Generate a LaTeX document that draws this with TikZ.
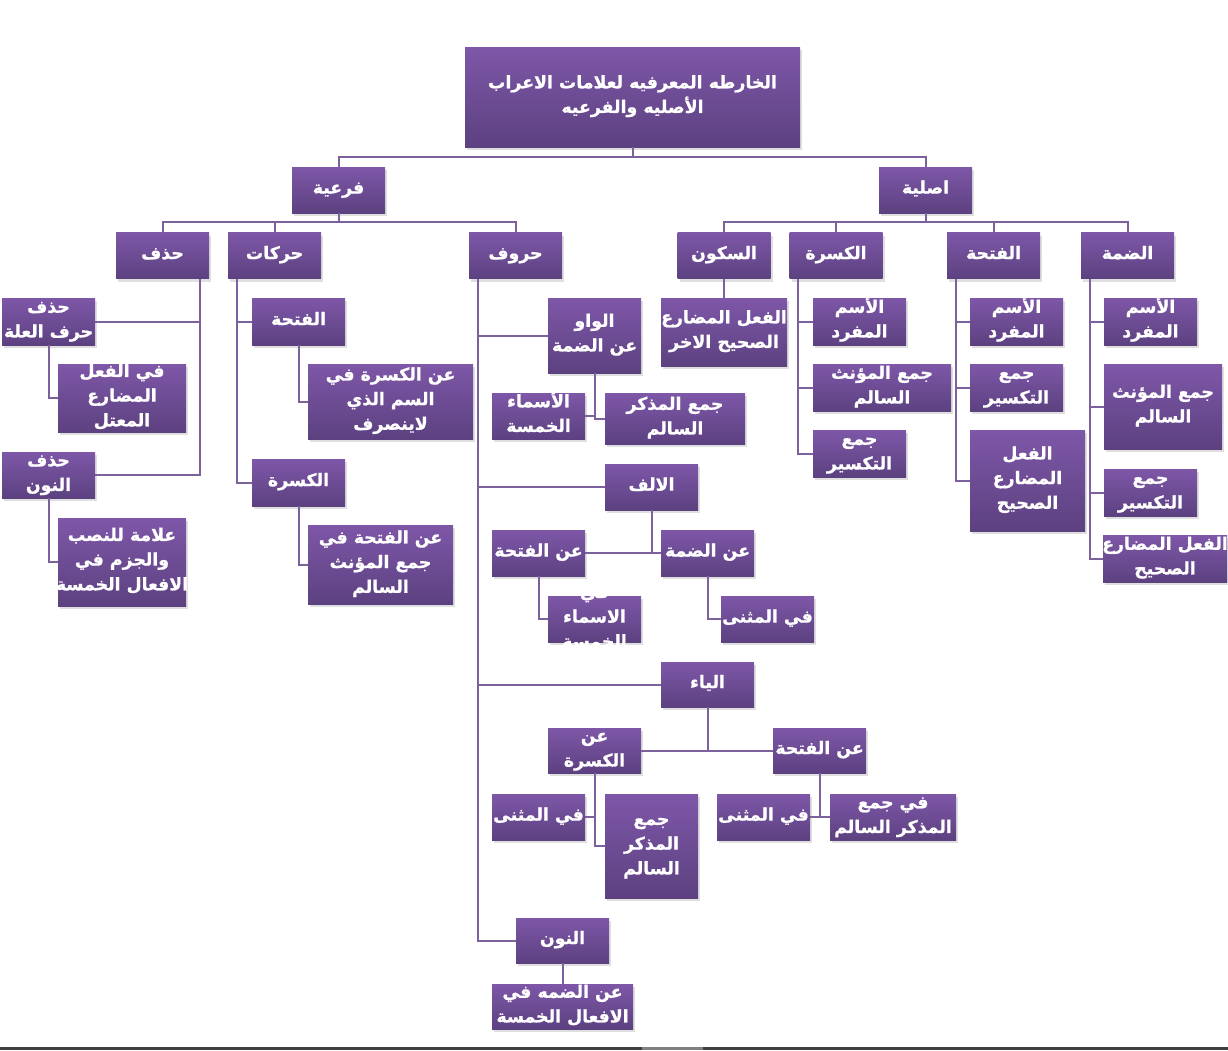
\documentclass[tikz,border=0pt]{standalone}
\usepackage{fontspec}
\newfontfamily\arabicfont[Script=Arabic, BoldFeatures={FakeBold=1}]{DejaVu Sans}
\TeXXeTstate=1
\usepackage{xcolor}
\usetikzlibrary{shapes,shadows}
\definecolor{boxtop}{RGB}{126,87,168}
\definecolor{boxbottom}{RGB}{92,65,128}
\definecolor{linkcolor}{RGB}{124,98,156}
\newcommand{\rl}[1]{\beginR #1\endR}
\newcommand{\boxlines}[1]{\makebox[0pt]{\smash{\raisebox{-2pt}{\begin{tabular}{@{}c@{}}#1\end{tabular}}}}}

\begin{document}
\begin{tikzpicture}[x=0.75pt, y=-0.75pt]
        \tikzstyle{block} = [rectangle, top color=boxtop, bottom color=boxbottom, text=white, font=\arabicfont\bfseries\fontsize{13}{18.5}\selectfont, inner sep=0pt, minimum width=69.75pt, minimum height=34.5pt, drop shadow={shadow xshift=1.5pt, shadow yshift=-2.25pt, opacity=0.25}]
        \tikzstyle{line} = [draw, linkcolor, line width=1.5pt]

        \useasboundingbox (0,0) rectangle (1228,1050);

        \node [block, minimum width=251.25pt, minimum height=75pt] (knowledge_map) at (632.5,97) {\boxlines{\rl{الخارطه المعرفيه لعلامات الاعراب}\\\rl{الأصليه والفرعيه}}};
        \node [block] (secondary) at (338.5,190) {\boxlines{\rl{فرعية}}};
        \node [block] (primary) at (925.5,190) {\boxlines{\rl{اصلية}}};

        \node [block] (omission) at (162.5,255.5) {\boxlines{\rl{حذف}}};
        \node [block] (vowels) at (274.5,255.5) {\boxlines{\rl{حركات}}};
        \node [block] (letters) at (515.5,255.5) {\boxlines{\rl{حروف}}};
        \node [block] (sukun) at (724,255.5) {\boxlines{\rl{السكون}}};
        \node [block] (kasra) at (836,255.5) {\boxlines{\rl{الكسرة}}};
        \node [block] (fatha) at (993.5,255.5) {\boxlines{\rl{الفتحة}}};
        \node [block] (damma) at (1127.5,255.5) {\boxlines{\rl{الضمة}}};

        \node [block, minimum height=35.25pt] (omit_weak) at (48.5,321.5) {\boxlines{\rl{حذف}\\\rl{حرف العلة}}};
        \node [block, minimum width=96pt, minimum height=51pt] (weak_verb) at (122,398) {\boxlines{\rl{في الفعل}\\\rl{المضارع}\\\rl{المعتل}}};
        \node [block] (omit_nun) at (48.5,475) {\boxlines{\rl{حذف}\\\rl{النون}}};
        \node [block, minimum width=96pt, minimum height=66pt] (five_verbs_mark) at (122,562) {\boxlines{\rl{علامة للنصب}\\\rl{والجزم في}\\\rl{الافعال الخمسة}}};
        \node [block, minimum height=35.25pt] (vowel_fatha) at (298.5,321.5) {\boxlines{\rl{الفتحة}}};
        \node [block, minimum width=123.75pt, minimum height=56.25pt] (fatha_diptote) at (390.5,401.5) {\boxlines{\rl{عن الكسرة في}\\\rl{السم الذي}\\\rl{لاينصرف}}};
        \node [block, minimum height=35.25pt] (vowel_kasra) at (298.5,482.5) {\boxlines{\rl{الكسرة}}};
        \node [block, minimum width=108.75pt, minimum height=59.25pt] (kasra_fem) at (380.5,564.5) {\boxlines{\rl{عن الفتحة في}\\\rl{جمع المؤنث}\\\rl{السالم}}};

        \node [block, minimum height=56.25pt] (waw) at (594.5,335.5) {\boxlines{\rl{الواو}\\\rl{عن الضمة}}};
        \node [block] (waw_five) at (538.5,416) {\boxlines{\rl{الأسماء}\\\rl{الخمسة}}};
        \node [block, minimum width=105pt, minimum height=38.25pt] (waw_masc) at (675,418.5) {\boxlines{\rl{جمع المذكر}\\\rl{السالم}}};
        \node [block] (alif) at (651.5,487) {\boxlines{\rl{الالف}}};
        \node [block] (alif_fatha) at (538.5,553) {\boxlines{\rl{عن الفتحة}}};
        \node [block] (alif_damma) at (707.5,553) {\boxlines{\rl{عن الضمة}}};
        \node [block] (alif_five) at (594.5,619) {\boxlines{\rl{في}\\\rl{الاسماء}\\\rl{الخمسة}}};
        \node [block] (alif_dual) at (767.5,619) {\boxlines{\rl{في المثنى}}};
        \node [block, minimum height=33.75pt] (ya) at (707.5,684.5) {\boxlines{\rl{الياء}}};
        \node [block, minimum height=33.75pt] (ya_kasra) at (594.5,750.5) {\boxlines{\rl{عن}\\\rl{الكسرة}}};
        \node [block, minimum height=33.75pt] (ya_fatha) at (819.5,750.5) {\boxlines{\rl{عن الفتحة}}};
        \node [block] (ya_kasra_dual) at (538.5,817) {\boxlines{\rl{في المثنى}}};
        \node [block, minimum height=78pt] (ya_kasra_masc) at (651.5,846) {\boxlines{\rl{جمع}\\\rl{المذكر}\\\rl{السالم}}};
        \node [block] (ya_fatha_dual) at (763.5,817) {\boxlines{\rl{في المثنى}}};
        \node [block, minimum width=94.5pt] (ya_fatha_masc) at (893,817) {\boxlines{\rl{في جمع}\\\rl{المذكر السالم}}};
        \node [block, minimum height=33.75pt] (nun) at (562.5,940.5) {\boxlines{\rl{النون}}};
        \node [block, minimum width=105.75pt, minimum height=33.75pt] (nun_damma) at (562.5,1006.5) {\boxlines{\rl{عن الضمه في}\\\rl{الافعال الخمسة}}};

        \node [block, minimum width=94.5pt, minimum height=51pt] (sukun_verb) at (724,332) {\boxlines{\rl{الفعل المضارع}\\\rl{الصحيح الاخر}}};
        \node [block, minimum height=35.25pt] (kasra_single) at (859.5,321.5) {\boxlines{\rl{الأسم}\\\rl{المفرد}}};
        \node [block, minimum width=103.5pt, minimum height=35.25pt] (kasra_fem_plural) at (882,387.5) {\boxlines{\rl{جمع المؤنث}\\\rl{السالم}}};
        \node [block, minimum height=35.25pt] (kasra_broken) at (859.5,453.5) {\boxlines{\rl{جمع}\\\rl{التكسير}}};
        \node [block, minimum height=35.25pt] (fatha_single) at (1016.5,321.5) {\boxlines{\rl{الأسم}\\\rl{المفرد}}};
        \node [block, minimum height=35.25pt] (fatha_broken) at (1016.5,387.5) {\boxlines{\rl{جمع}\\\rl{التكسير}}};
        \node [block, minimum width=86.25pt, minimum height=75.75pt] (fatha_verb) at (1027.5,480.5) {\boxlines{\rl{الفعل}\\\rl{المضارع}\\\rl{الصحيح}}};
        \node [block, minimum height=35.25pt] (damma_single) at (1150.5,321.5) {\boxlines{\rl{الأسم}\\\rl{المفرد}}};
        \node [block, minimum width=88.5pt, minimum height=63.75pt] (damma_fem_plural) at (1163,406.5) {\boxlines{\rl{جمع المؤنث}\\\rl{السالم}}};
        \node [block, minimum height=35.25pt] (damma_broken) at (1150.5,492.5) {\boxlines{\rl{جمع}\\\rl{التكسير}}};
        \node [block, minimum width=93pt, minimum height=35.25pt] (damma_verb) at (1165,558.5) {\boxlines{\rl{الفعل المضارع}\\\rl{الصحيح}}};

        \path [line] (knowledge_map.south) -- ++(0,10) -| (secondary.north);
        \path [line] (knowledge_map.south) -- ++(0,10) -| (primary.north);
        \path [line] (secondary.south) -- ++(0,9) -| (omission.north);
        \path [line] (secondary.south) -- ++(0,9) -| (vowels.north);
        \path [line] (secondary.south) -- ++(0,9) -| (letters.north);
        \path [line] (primary.south) -- ++(0,9) -| (sukun.north);
        \path [line] (primary.south) -- ++(0,9) -| (kasra.north);
        \path [line] (primary.south) -- ++(0,9) -| (fatha.north);
        \path [line] (primary.south) -- ++(0,9) -| (damma.north);

        \path [line] ([xshift=-6.75pt]omission.south east) |- (omit_weak.east);
        \path [line] ([xshift=-6.75pt]omission.south east) |- (omit_nun.east);
        \path [line] (omit_weak.south) |- (weak_verb.west);
        \path [line] (omit_nun.south) |- (five_verbs_mark.west);
        \path [line] ([xshift=6.75pt]vowels.south west) |- (vowel_fatha.west);
        \path [line] ([xshift=6.75pt]vowels.south west) |- (vowel_kasra.west);
        \path [line] (vowel_fatha.south) |- (fatha_diptote.west);
        \path [line] (vowel_kasra.south) |- (kasra_fem.west);

        \path [line] ([xshift=6.75pt]letters.south west) |- (waw.west);
        \path [line] ([xshift=6.75pt]letters.south west) |- (alif.west);
        \path [line] ([xshift=6.75pt]letters.south west) |- (ya.west);
        \path [line] ([xshift=6.75pt]letters.south west) |- (nun.west);
        \path [line] (waw.south) |- (waw_five.east);
        \path [line] (waw.south) |- (waw_masc.west);
        \path [line] (alif.south) |- (alif_fatha.east);
        \path [line] (alif.south) |- (alif_damma.west);
        \path [line] (alif_fatha.south) |- (alif_five.west);
        \path [line] (alif_damma.south) |- (alif_dual.west);
        \path [line] (ya.south) |- (ya_kasra.east);
        \path [line] (ya.south) |- (ya_fatha.west);
        \path [line] (ya_kasra.south) |- (ya_kasra_dual.east);
        \path [line] (ya_kasra.south) |- (ya_kasra_masc.west);
        \path [line] (ya_fatha.south) |- (ya_fatha_dual.east);
        \path [line] (ya_fatha.south) |- (ya_fatha_masc.west);
        \path [line] (nun.south) -- (nun_damma.north);

        \path [line] (sukun.south) -- (sukun_verb.north);
        \path [line] ([xshift=6.75pt]kasra.south west) |- (kasra_single.west);
        \path [line] ([xshift=6.75pt]kasra.south west) |- (kasra_fem_plural.west);
        \path [line] ([xshift=6.75pt]kasra.south west) |- (kasra_broken.west);
        \path [line] ([xshift=6.75pt]fatha.south west) |- (fatha_single.west);
        \path [line] ([xshift=6.75pt]fatha.south west) |- (fatha_broken.west);
        \path [line] ([xshift=6.75pt]fatha.south west) |- (fatha_verb.west);
        \path [line] ([xshift=6.75pt]damma.south west) |- (damma_single.west);
        \path [line] ([xshift=6.75pt]damma.south west) |- (damma_fem_plural.west);
        \path [line] ([xshift=6.75pt]damma.south west) |- (damma_broken.west);
        \path [line] ([xshift=6.75pt]damma.south west) |- (damma_verb.west);

        \fill [black!75] (0,1047) rectangle (1228,1050);
        \fill [black!50] (642,1047) rectangle (703,1050);

    \end{tikzpicture}
\end{document}
